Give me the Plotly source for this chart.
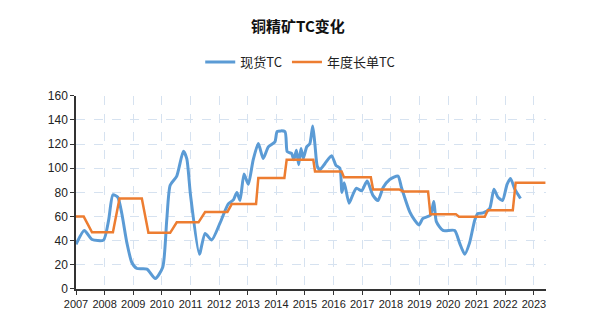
import plotly.graph_objects as go

# Spot TC (decimal year, USD/t)
spot_x = [2007.0, 2007.29, 2007.56, 2007.96, 2008.14, 2008.29, 2008.46, 2008.6, 2008.78, 2008.95,
          2009.13, 2009.48, 2009.77, 2010.03, 2010.17, 2010.29, 2010.52, 2010.75, 2010.87, 2011.0,
          2011.31, 2011.51, 2011.74, 2012.03, 2012.32, 2012.5, 2012.62, 2012.73, 2012.87, 2013.02,
          2013.19, 2013.37, 2013.54, 2013.72, 2013.95, 2014.03, 2014.3, 2014.38, 2014.53, 2014.61,
          2014.7, 2014.78, 2014.86, 2014.94, 2015.06, 2015.17, 2015.27, 2015.35, 2015.43, 2015.52,
          2015.7, 2015.93, 2016.08, 2016.22, 2016.29, 2016.37, 2016.54, 2016.68, 2016.8, 2016.98,
          2017.17, 2017.38, 2017.55, 2017.73, 2017.96, 2018.25, 2018.37, 2018.66, 2018.83, 2018.98,
          2019.12, 2019.38, 2019.5, 2019.59, 2019.82, 2020.23, 2020.4, 2020.58, 2020.75, 2020.93,
          2021.04, 2021.22, 2021.45, 2021.6, 2021.74, 2021.9, 2022.06, 2022.18, 2022.33, 2022.53]
spot_y = [37, 48.5, 41, 40.5, 57, 78, 76, 62.5, 38, 22,
          17, 16.5, 8.6, 18, 57, 86, 93.5, 114, 108, 78,
          28.8, 46, 40.5, 54.5, 70.5, 73.8, 80, 73.3, 95.3, 86.7,
          107, 120.4, 108, 117.7, 121.8, 130.4, 130.4, 113.7, 112.3, 107,
          115, 103, 116.4, 108.3, 117.7, 120.4, 135, 119, 101.5, 98.8,
          104, 110.4, 102.4, 100, 80, 88, 71, 78.6, 83.5, 81.3,
          89.4, 77.3, 73.3, 84, 90.7, 93.5, 84, 63.8, 57, 53,
          58.4, 61, 72.5, 55.8, 48.5, 48.5, 38.2, 28.8, 38.2, 57,
          62.5, 63, 66.5, 82.7, 76, 73.3, 86.7, 91.5, 82.7, 75]

# Annual benchmark TC
bench_x = [2007.0, 2007.27, 2007.56, 2008.29, 2008.52, 2009.3, 2009.53, 2010.29, 2010.52, 2011.28,
           2011.51, 2012.29, 2012.44, 2013.29, 2013.37, 2014.28, 2014.36, 2015.29, 2015.35, 2016.28,
           2016.36, 2017.3, 2017.38, 2018.29, 2018.43, 2019.3, 2019.38, 2020.27, 2020.38, 2021.28,
           2021.39, 2022.26, 2022.36, 2023.4]
bench_y = [60, 60, 47, 47, 75, 75, 46.5, 46.5, 55.2, 55.2,
           63.8, 63.8, 70.3, 70.3, 92, 92, 107, 107, 97.4, 97.4,
           92.6, 92.6, 82.5, 82.5, 80.8, 80.8, 62, 62, 59.8, 59.8,
           65.2, 65.2, 88, 88]

years = list(range(2007, 2024))
year_labels = [str(y) for y in years]
y_ticks = list(range(0, 161, 20))

fig = go.Figure()
fig.add_trace(go.Scatter(x=spot_x, y=spot_y, mode="lines", name="现货TC",
                         line=dict(color="#5B9BD5", width=3, shape="spline", smoothing=0.6)))
fig.add_trace(go.Scatter(x=bench_x, y=bench_y, mode="lines", name="年度长单TC",
                         line=dict(color="#ED7D31", width=2.5)))

fig.update_layout(
    width=591, height=332,
    margin=dict(l=76, r=45, t=91, b=43),
    paper_bgcolor="white", plot_bgcolor="white",
    font=dict(family="Liberation Sans, Noto Sans CJK SC", size=11, color="#222222"),
    title=dict(text="<b>铜精矿TC变化</b>", x=0.504, xref="container", xanchor="center",
               y=1 - 27 / 332, yref="container", yanchor="middle",
               font=dict(family="Noto Sans CJK SC", size=15, color="#111111")),
    legend=dict(orientation="h", xref="container", yref="container", x=0.508, xanchor="center",
                y=1 - 62 / 332, yanchor="middle", font=dict(family="Noto Sans CJK SC", size=13, color="#222222"),
                bgcolor="rgba(0,0,0,0)"),
    showlegend=True,
)
fig.update_xaxes(range=[2007, 2023.42], tickvals=years, ticktext=year_labels,
                 showline=True, linecolor="#333333", linewidth=1.5,
                 ticks="outside", ticklen=4, tickcolor="#333333",
                 showgrid=True, gridcolor="#D6E2F0", griddash="dash", gridwidth=1,
                 zeroline=False, tickfont=dict(size=11))
fig.update_yaxes(range=[0, 160], tickvals=y_ticks,
                 showline=True, linecolor="#333333", linewidth=1.5,
                 ticks="outside", ticklen=4, tickcolor="#333333",
                 showgrid=True, gridcolor="#D6E2F0", griddash="dash", gridwidth=1,
                 zeroline=False, tickfont=dict(size=12))

fig.write_html("out.html")
